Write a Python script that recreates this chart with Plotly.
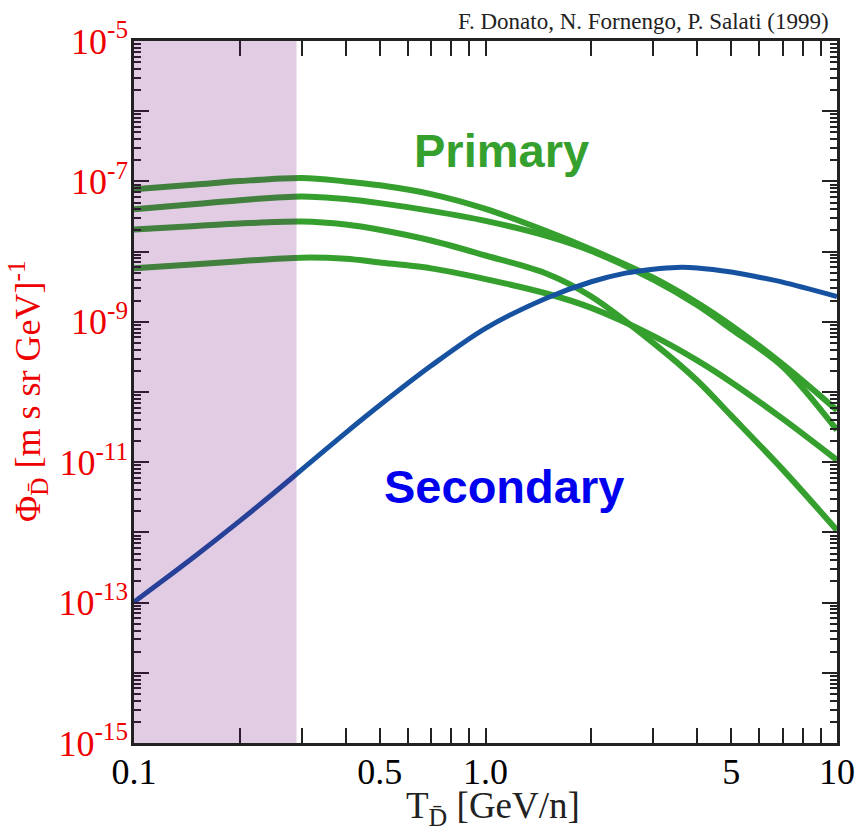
import plotly.graph_objects as go

# ---------------- data ----------------
T_secondary = [0.1, 0.12, 0.15, 0.2, 0.25, 0.3, 0.4, 0.5, 0.7, 1.0, 1.5, 2.0, 2.5, 3.0, 3.5, 4.0, 5.0, 6.0, 7.0, 10.0]
phi_secondary = [1.02e-13, 2.01e-13, 4.69e-13, 1.46e-12, 3.64e-12, 7.83e-12, 2.62e-11, 6.47e-11, 2.36e-10,
                 8.07e-10, 2.2e-9, 3.72e-9, 4.94e-9, 5.62e-9, 5.96e-9, 5.86e-9, 5.13e-9, 4.32e-9, 3.67e-9,
                 2.29e-9]

T_primary = [0.1, 0.15, 0.2, 0.3, 0.4, 0.5, 0.7, 1.0, 1.5, 2.0, 3.0, 4.0, 5.0, 7.0, 10.0]
phi_primary_a = [7.7e-8, 9.0e-8, 1.01e-7, 1.12e-7, 1.0e-7, 8.8e-8, 6.6e-8, 4.06e-8, 1.93e-8,
                 1.07e-8, 4.24e-9, 1.87e-9, 8.9e-10, 2.5e-10, 5.5e-11]
phi_primary_b = [4.0e-8, 4.75e-8, 5.4e-8, 6.1e-8, 5.6e-8, 4.9e-8, 3.8e-8, 2.74e-8, 1.66e-8,
                 1.02e-8, 3.98e-9, 1.73e-9, 7.9e-10, 2.3e-10, 2.86e-11]
phi_primary_c = [2.07e-8, 2.31e-8, 2.51e-8, 2.68e-8, 2.43e-8, 2.05e-8, 1.44e-8, 8.8e-9, 4.8e-9,
                 2.29e-9, 5.0e-10, 1.46e-10, 4.6e-11, 7.9e-12, 1.07e-12]
phi_primary_d = [5.77e-9, 6.6e-9, 7.3e-9, 8.2e-9, 7.9e-9, 7.0e-9, 5.77e-9, 4.06e-9, 2.51e-9,
                 1.58e-9, 6.3e-10, 2.82e-10, 1.38e-10, 4.17e-11, 1.07e-11]
primary_series = [phi_primary_a, phi_primary_b, phi_primary_c, phi_primary_d]

shade_range = [0.1, 0.29]

x_tick_vals = [0.1, 0.5, 1.0, 5.0, 10.0]
x_tick_text = ["0.1", "0.5", "1.0", "5", "10"]
x_minor_vals = [0.2, 0.3, 0.4, 0.6, 0.7, 0.8, 0.9, 2, 3, 4, 6, 7, 8, 9]

y_label_exponents = [-15, -13, -11, -9, -7, -5]
y_tick_vals = [10.0 ** e for e in y_label_exponents]
y_tick_text = ["10<sup>%d</sup>" % e for e in y_label_exponents]
y_unlabeled_vals = [10.0 ** e for e in [-14, -12, -10, -8, -6]]
y_minor_vals = [k * 10.0 ** e for e in range(-15, -5) for k in range(2, 10)]

# ---------------- figure ----------------
GREEN = "#36a02f"
BLUE = "#1652a0"
AXC = "#222"
SERIF = "Liberation Serif"
SANS = "Liberation Sans"

fig = go.Figure()
for phi in primary_series:
    fig.add_trace(go.Scatter(x=T_primary, y=phi, mode="lines",
                             line=dict(color=GREEN, width=6, shape="spline", smoothing=0.9),
                             showlegend=False, hoverinfo="skip"))
fig.add_trace(go.Scatter(x=T_secondary, y=phi_secondary, mode="lines",
                         line=dict(color=BLUE, width=5, shape="spline", smoothing=0.9),
                         showlegend=False, hoverinfo="skip"))
# carrier trace for the overlay axis holding the unlabeled decade ticks
fig.add_trace(go.Scatter(x=[None], y=[None], yaxis="y2", mode="lines",
                         showlegend=False, hoverinfo="skip"))

fig.add_shape(type="rect", xref="x", yref="y domain", x0=shade_range[0], x1=shade_range[1],
              y0=0, y1=1, fillcolor="rgba(110,0,120,0.2)", line=dict(width=0), layer="above")

L, R, TOP, BOT = 134, 21, 41, 89
W, H = 858, 832
pw, ph = W - L - R, H - TOP - BOT


def px(x):
    return (x - L) / pw


def py(y):
    return (H - BOT - y) / ph


fig.update_layout(
    width=W, height=H,
    margin=dict(l=L, r=R, t=TOP, b=BOT, autoexpand=False),
    paper_bgcolor="white", plot_bgcolor="white",
    xaxis=dict(type="log", range=[-1, 1], showgrid=False, zeroline=False,
               showline=True, linecolor=AXC, linewidth=2.5, mirror="allticks",
               ticks="inside", ticklen=15, tickwidth=2, tickcolor=AXC,
               tickmode="array", tickvals=x_tick_vals, ticktext=x_tick_text,
               ticklabelstandoff=-5,
               tickfont=dict(family=SERIF, size=36, color="black"),
               minor=dict(tickmode="array", tickvals=x_minor_vals, ticks="inside",
                          ticklen=8, tickwidth=2, tickcolor=AXC, showgrid=False)),
    yaxis=dict(type="log", range=[-15, -5], showgrid=False, zeroline=False,
               showline=True, linecolor=AXC, linewidth=2.5, mirror="allticks",
               ticks="inside", ticklen=15, tickwidth=2, tickcolor=AXC,
               tickmode="array", tickvals=y_tick_vals, ticktext=y_tick_text,
               ticklabelstandoff=-4,
               tickfont=dict(family=SERIF, size=36, color="#ee0000"),
               minor=dict(tickmode="array", tickvals=y_minor_vals, ticks="inside",
                          ticklen=7, tickwidth=2, tickcolor=AXC, showgrid=False)),
    yaxis2=dict(type="log", range=[-15, -5], overlaying="y", anchor="x", side="left",
                showgrid=False, zeroline=False, showline=True, linecolor=AXC, linewidth=2.5,
                mirror="allticks", ticks="inside", ticklen=15, tickwidth=2, tickcolor=AXC,
                tickmode="array", tickvals=y_unlabeled_vals, showticklabels=False),
)

fig.add_annotation(text="F. Donato, N. Fornengo, P. Salati (1999)", xref="paper", yref="paper",
                   x=px(831), y=py(22), xanchor="right", yanchor="middle", showarrow=False,
                   font=dict(family=SERIF, size=23, color=AXC))
fig.add_annotation(text="<b>Primary</b>", xref="paper", yref="paper", x=px(501), y=py(150),
                   xanchor="center", yanchor="middle", showarrow=False,
                   font=dict(family=SANS, size=47, color=GREEN))
fig.add_annotation(text="<b>Secondary</b>", xref="paper", yref="paper", x=px(504), y=py(486),
                   xanchor="center", yanchor="middle", showarrow=False,
                   font=dict(family=SANS, size=47, color="#0000ee"))
fig.add_annotation(text="T<sub>D\u0304</sub> [GeV/n]", xref="paper", yref="paper",
                   x=px(493), y=py(808), xanchor="center", yanchor="middle", showarrow=False,
                   font=dict(family=SERIF, size=37, color=AXC))
fig.add_annotation(text="\u03a6<sub>D\u0304</sub> [m s sr GeV]<sup>-1</sup>", xref="paper", yref="paper",
                   x=px(28), y=py(392), xanchor="center", yanchor="middle", textangle=-90,
                   showarrow=False, font=dict(family=SERIF, size=36, color="#ee0000"))

fig.write_html("out.html")
